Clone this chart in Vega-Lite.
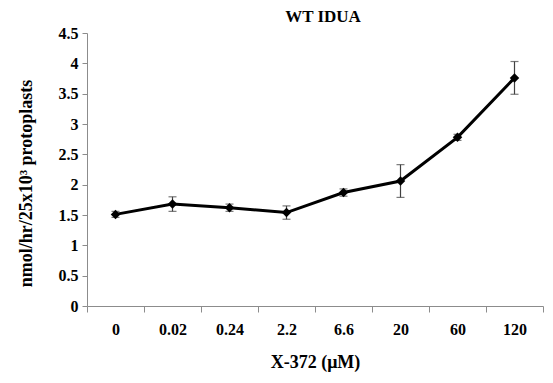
{
  "$schema": "https://vega.github.io/schema/vega-lite/v6.json",
  "width": 456,
  "height": 273,
  "autosize": "none",
  "padding": {"left": 87, "top": 33, "right": 10, "bottom": 77},
  "background": "white",
  "title": {
    "text": "WT IDUA",
    "font": "Liberation Serif",
    "fontSize": 17,
    "fontWeight": "bold",
    "color": "black",
    "anchor": "middle",
    "dx": 8,
    "dy": 4,
    "offset": 3
  },
  "config": {
    "view": {"stroke": null},
    "axis": {
      "labelFont": "Liberation Serif",
      "labelFontSize": 16,
      "labelFontWeight": "bold",
      "labelColor": "black",
      "titleFont": "Liberation Serif",
      "titleFontSize": 18,
      "titleFontWeight": "bold",
      "titleColor": "black",
      "domainColor": "#8c8c8c",
      "tickColor": "#8c8c8c",
      "grid": false
    }
  },
  "data": {
    "values": [
      {"dose": "0", "activity": 1.51, "sd": 0.05},
      {"dose": "0.02", "activity": 1.68, "sd": 0.12},
      {"dose": "0.24", "activity": 1.62, "sd": 0.06},
      {"dose": "2.2", "activity": 1.54, "sd": 0.11},
      {"dose": "6.6", "activity": 1.87, "sd": 0.06},
      {"dose": "20", "activity": 2.06, "sd": 0.27},
      {"dose": "60", "activity": 2.78, "sd": 0.05},
      {"dose": "120", "activity": 3.76, "sd": 0.27}
    ]
  },
  "encoding": {
    "x": {
      "field": "dose",
      "type": "ordinal",
      "sort": null,
      "scale": {"type": "band", "paddingInner": 0, "paddingOuter": 0},
      "axis": {
        "title": "X-372 (μM)",
        "labelAngle": 0,
        "tickBand": "extent",
        "tickSize": 6,
        "labelPadding": 9,
        "titlePadding": 16
      }
    },
    "y": {
      "field": "activity",
      "type": "quantitative",
      "scale": {"domain": [0, 4.5], "nice": false},
      "axis": {
        "title": "nmol/hr/25x10³ protoplasts",
        "values": [0, 0.5, 1, 1.5, 2, 2.5, 3, 3.5, 4, 4.5],
        "format": "~g",
        "tickSize": 5,
        "labelPadding": 4,
        "titleX": -52,
        "titleY": 150
      }
    }
  },
  "layer": [
    {
      "mark": {"type": "errorbar", "ticks": {"size": 8, "color": "#404040", "thickness": 1.2}, "rule": {"color": "#404040", "strokeWidth": 1.2}},
      "encoding": {
        "yError": {"field": "sd"}
      }
    },
    {
      "mark": {"type": "line", "color": "black", "strokeWidth": 3},
      "encoding": {}
    },
    {
      "mark": {"type": "point", "shape": "diamond", "filled": true, "color": "black", "opacity": 1, "size": 90},
      "encoding": {}
    }
  ]
}
